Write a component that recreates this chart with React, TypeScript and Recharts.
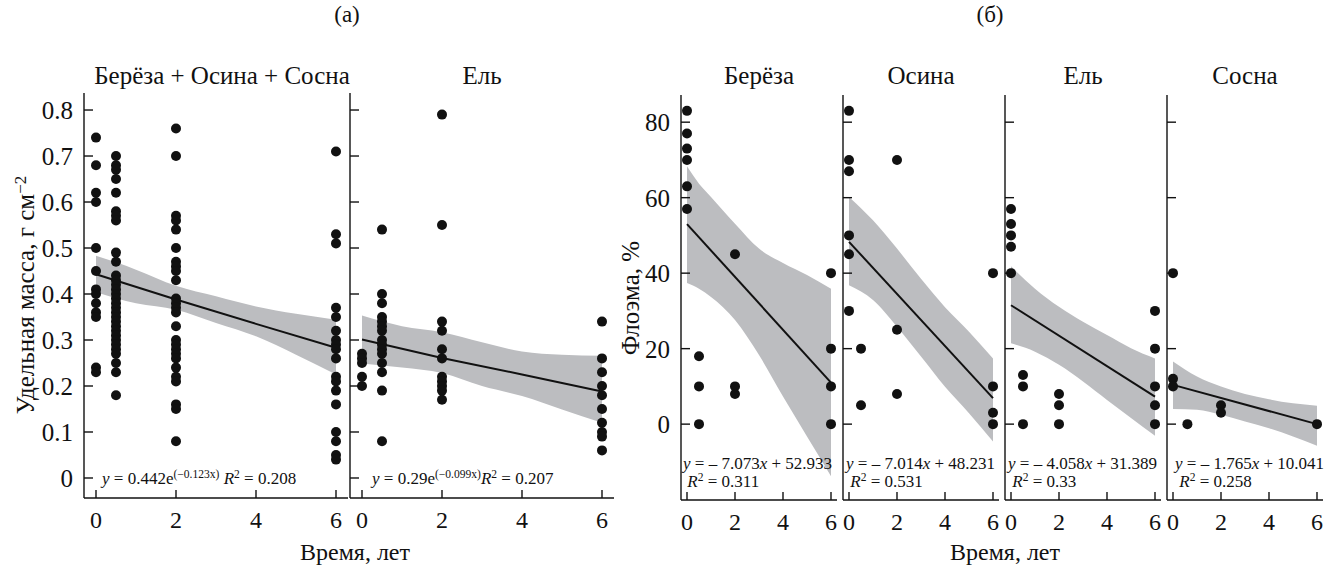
import React from 'react';
import { ComposedChart, Scatter, Line, Area, XAxis, YAxis } from 'recharts';

const FONT = 'Liberation Serif, DejaVu Serif, Noto Serif, serif';
const INK = '#111';
const BAND = '#bcbdc0';

const timeTicks = [0, 2, 4, 6];
const massTicks = [0, 0.1, 0.2, 0.3, 0.4, 0.5, 0.6, 0.7, 0.8];
const phloemTicks = [0, 20, 40, 60, 80];

// (а) удельная масса, Берёза + Осина + Сосна — точки по срокам
const mixT0 = [0.74, 0.68, 0.62, 0.6, 0.5, 0.45, 0.41, 0.4, 0.38, 0.36, 0.35, 0.24, 0.23];
const mixT05 = [0.7, 0.68, 0.67, 0.65, 0.62, 0.58, 0.57, 0.56, 0.49, 0.47, 0.44, 0.43, 0.42, 0.41, 0.4, 0.39, 0.38, 0.37, 0.36, 0.35, 0.34, 0.33, 0.32, 0.31, 0.3, 0.29, 0.28, 0.27, 0.25, 0.23, 0.18];
const mixT2 = [0.76, 0.7, 0.57, 0.56, 0.54, 0.5, 0.47, 0.46, 0.45, 0.43, 0.39, 0.38, 0.37, 0.36, 0.33, 0.3, 0.29, 0.28, 0.27, 0.26, 0.24, 0.22, 0.21, 0.16, 0.15, 0.08];
const mixT6 = [0.71, 0.53, 0.51, 0.37, 0.35, 0.32, 0.3, 0.29, 0.28, 0.26, 0.22, 0.21, 0.19, 0.16, 0.1, 0.08, 0.05, 0.04];
const mixFit = [[0, 0.443], [2, 0.388], [4, 0.335], [6, 0.283]];
const mixBand = [[0, 0.404, 0.483], [0.5, 0.391, 0.469], [1, 0.38, 0.453], [2, 0.366, 0.418], [3, 0.337, 0.395], [4, 0.308, 0.373], [5, 0.268, 0.357], [6, 0.225, 0.344]];

// (а) Ель
const spruceT0 = [0.27, 0.26, 0.25, 0.22, 0.2];
const spruceT05 = [0.54, 0.4, 0.38, 0.35, 0.34, 0.33, 0.32, 0.3, 0.29, 0.28, 0.27, 0.25, 0.23, 0.19, 0.08];
const spruceT2 = [0.79, 0.55, 0.34, 0.32, 0.28, 0.26, 0.22, 0.21, 0.2, 0.19, 0.17];
const spruceT6 = [0.34, 0.26, 0.23, 0.2, 0.18, 0.15, 0.12, 0.1, 0.09, 0.06];
const spruceFit = [[0, 0.301], [2, 0.261], [4, 0.225], [6, 0.188]];
const spruceBand = [[0, 0.249, 0.353], [1, 0.24, 0.33], [2, 0.228, 0.317], [3, 0.2, 0.295], [4, 0.178, 0.275], [5, 0.149, 0.268], [6, 0.12, 0.266]];

// (б) флоэма, %
const birchPts = [[0, [83, 77, 73, 70, 63, 57]], [0.5, [18, 10, 0]], [2, [45, 10, 8]], [6, [40, 20, 10, 0]]];
const birchFit = [[0, 53], [6, 11]];
const birchBand = [[0, 37.4, 68.3], [0.5, 35.9, 63.7], [1, 33.7, 60.2], [2, 27.6, 53.1], [3, 18.3, 46.5], [4, 7.3, 42.7], [5, -3.3, 39.5], [6, -13.8, 35.9]];

const aspenPts = [[0, [83, 70, 67, 50, 45, 30]], [0.5, [20, 5]], [2, [70, 25, 8]], [6, [40, 10, 3, 0]]];
const aspenFit = [[0, 48.3], [6, 6.9]];
const aspenBand = [[0, 36.8, 60.2], [1, 32.9, 54], [2, 25.8, 46.5], [3, 17.9, 38.5], [4, 9.9, 31], [5, 2.9, 24.5], [6, -4.6, 17.4]];

const firPts = [[0, [57, 53, 50, 47, 40]], [0.5, [13, 10, 0]], [2, [8, 5, 0]], [6, [30, 20, 10, 5, 0]]];
const firFit = [[0, 31.5], [6, 7.3]];
const firBand = [[0, 21.4, 41.8], [1, 19.2, 35.9], [2, 15.7, 31.1], [3, 11.3, 27.1], [4, 6.4, 23.6], [5, 1.6, 20.1], [6, -3.1, 17.4]];

const pinePts = [[0, [40, 12, 10]], [0.6, [0]], [2, [5, 3]], [6, [0]]];
const pineFit = [[0, 10.4], [6, 0]];
const pineBand = [[0, 4, 16.6], [1, 3.8, 12.6], [2, 2.5, 10], [3, 0.7, 8], [4, -1.1, 6.6], [5, -3.3, 5.5], [6, -5.7, 4.9]];

const cols = (list: any[]) => list.flatMap(([x, ys]) => ys.map((y: number) => ({ x, y })));
const fitRows = (list: number[][]) => list.map(([x, y]) => ({ x, y }));
const bandRows = (list: number[][]) => list.map(([x, lo, hi]) => ({ x, lo, hi }));

const Dot = (p: any) => <circle cx={p.cx} cy={p.cy} r={5} fill={INK} />;

const XTick = (p: any) => (
  <g>
    <line x1={p.x} y1={p.y} x2={p.x} y2={p.y - 8} stroke={INK} strokeWidth={1.4} />
    <text x={p.x} y={p.y + 30} textAnchor="middle" fontSize={24} fontFamily={FONT} fill={INK}>
      {p.payload.value}
    </text>
  </g>
);

const makeYTick = (labels: boolean) => (p: any) => (
  <g>
    <line x1={p.x} y1={p.y} x2={p.x + 9} y2={p.y} stroke={INK} strokeWidth={1.4} />
    {labels && (
      <text x={p.x - 11} y={p.y + 9} textAnchor="end" fontSize={25} fontFamily={FONT} fill={INK}>
        {p.payload.value}
      </text>
    )}
  </g>
);

interface PanelProps {
  left: number;
  top: number;
  pw: number;
  xDomain: number[];
  yDomain: number[];
  yTicks: number[];
  labels: boolean;
  points: { x: number; y: number }[];
  fit: { x: number; y: number }[];
  band: { x: number; lo: number; hi: number }[];
}

const PH = 405;

const Panel = ({ left, top, pw, xDomain, yDomain, yTicks, labels, points, fit, band }: PanelProps) => {
  const padL = labels ? 60 : 4;
  const padT = 6;
  const padR = 8;
  const axisH = 40;
  return (
    <div style={{ position: 'absolute', left: left - padL, top: top - padT }}>
      <ComposedChart
        width={padL + pw + padR}
        height={padT + PH + axisH}
        margin={{ top: padT, right: padR, bottom: 0, left: 0 }}
      >
        <XAxis
          type="number"
          dataKey="x"
          domain={xDomain}
          ticks={timeTicks}
          interval={0}
          allowDataOverflow
          height={axisH}
          tickSize={0}
          tickMargin={0}
          tickLine={false}
          axisLine={{ stroke: INK, strokeWidth: 1.4 }}
          tick={<XTick />}
        />
        <YAxis
          type="number"
          domain={yDomain}
          ticks={yTicks}
          interval={0}
          allowDataOverflow
          width={padL}
          tickSize={0}
          tickMargin={0}
          tickLine={false}
          axisLine={{ stroke: INK, strokeWidth: 1.4 }}
          tick={makeYTick(labels)}
        />
        <Area
          data={band}
          dataKey={(d: any) => [d.lo, d.hi]}
          type="monotone"
          fill={BAND}
          fillOpacity={1}
          stroke="none"
          isAnimationActive={false}
        />
        <Line data={fit} dataKey="y" type="linear" stroke={INK} strokeWidth={2} dot={false} isAnimationActive={false} />
        <Scatter data={points} dataKey="y" shape={Dot} isAnimationActive={false} />
      </ComposedChart>
    </div>
  );
};

const Txt = ({ x, y, size = 25, children, rotate = false }: any) => (
  <div
    style={{
      position: 'absolute',
      left: x,
      top: y,
      transform: `translate(-50%, -50%)${rotate ? ' rotate(-90deg)' : ''}`,
      fontSize: size,
      lineHeight: 1,
      whiteSpace: 'nowrap',
    }}
  >
    {children}
  </div>
);

const Sup = ({ children }: any) => (
  <span style={{ fontSize: '0.68em', position: 'relative', top: '-0.48em' }}>{children}</span>
);

const Eq = ({ x, y, children }: any) => (
  <div style={{ position: 'absolute', left: x, top: y, fontSize: 17, lineHeight: '18px', whiteSpace: 'nowrap' }}>
    {children}
  </div>
);

const massDomain = [-0.0435, 0.837];
const phloemDomain = [-20.1, 87.2];

export default function App() {
  return (
    <div
      style={{
        position: 'absolute',
        left: 0,
        top: 0,
        width: 1324,
        height: 571,
        background: '#fff',
        color: INK,
        fontFamily: FONT,
        overflow: 'hidden',
      }}
    >
      <Txt x={347} y={14} size={23}>(а)</Txt>
      <Txt x={990} y={14} size={23}>(б)</Txt>

      <Txt x={222} y={75}>Берёза + Осина + Сосна</Txt>
      <Txt x={482} y={75}>Ель</Txt>
      <Txt x={759} y={75}>Берёза</Txt>
      <Txt x={921} y={75}>Осина</Txt>
      <Txt x={1083} y={75}>Ель</Txt>
      <Txt x={1245} y={75}>Сосна</Txt>

      <Txt x={25} y={295} rotate>
        Удельная масса, г см<Sup>−2</Sup>
      </Txt>
      <Txt x={630} y={298} rotate>Флоэма, %</Txt>

      <Txt x={355} y={552} size={24}>Время, лет</Txt>
      <Txt x={1005} y={552} size={24}>Время, лет</Txt>

      <Panel left={84} top={93} pw={264} xDomain={[-0.3, 6.3]} yDomain={massDomain} yTicks={massTicks} labels
        points={[...mixT0.map((y) => ({ x: 0, y })), ...mixT05.map((y) => ({ x: 0.5, y })), ...mixT2.map((y) => ({ x: 2, y })), ...mixT6.map((y) => ({ x: 6, y }))]}
        fit={fitRows(mixFit)} band={bandRows(mixBand)} />
      <Panel left={350} top={93} pw={264} xDomain={[-0.3, 6.3]} yDomain={massDomain} yTicks={massTicks} labels={false}
        points={[...spruceT0.map((y) => ({ x: 0, y })), ...spruceT05.map((y) => ({ x: 0.5, y })), ...spruceT2.map((y) => ({ x: 2, y })), ...spruceT6.map((y) => ({ x: 6, y }))]}
        fit={fitRows(spruceFit)} band={bandRows(spruceBand)} />

      <Panel left={681} top={95} pw={156} xDomain={[-0.25, 6.25]} yDomain={phloemDomain} yTicks={phloemTicks} labels
        points={cols(birchPts)} fit={fitRows(birchFit)} band={bandRows(birchBand)} />
      <Panel left={843} top={95} pw={156} xDomain={[-0.25, 6.25]} yDomain={phloemDomain} yTicks={phloemTicks} labels={false}
        points={cols(aspenPts)} fit={fitRows(aspenFit)} band={bandRows(aspenBand)} />
      <Panel left={1005} top={95} pw={156} xDomain={[-0.25, 6.25]} yDomain={phloemDomain} yTicks={phloemTicks} labels={false}
        points={cols(firPts)} fit={fitRows(firFit)} band={bandRows(firBand)} />
      <Panel left={1167} top={95} pw={156} xDomain={[-0.25, 6.25]} yDomain={phloemDomain} yTicks={phloemTicks} labels={false}
        points={cols(pinePts)} fit={fitRows(pineFit)} band={bandRows(pineBand)} />

      <Eq x={102} y={470}>
        <i>y</i> = 0.442e<Sup>(−0.123x)</Sup> <i>R</i><Sup>2</Sup> = 0.208
      </Eq>
      <Eq x={372} y={470}>
        <i>y</i> = 0.29e<Sup>(−0.099x)</Sup><i>R</i><Sup>2</Sup> = 0.207
      </Eq>

      <Eq x={683} y={455}>
        <i>y</i> = – 7.073<i>x</i> + 52.933<br />&nbsp;<i>R</i><Sup>2</Sup> = 0.311
      </Eq>
      <Eq x={846} y={455}>
        <i>y</i> = – 7.014<i>x</i> + 48.231<br />&nbsp;<i>R</i><Sup>2</Sup> = 0.531
      </Eq>
      <Eq x={1008} y={455}>
        <i>y</i> = – 4.058<i>x</i> + 31.389<br />&nbsp;<i>R</i><Sup>2</Sup> = 0.33
      </Eq>
      <Eq x={1175} y={455}>
        <i>y</i> = – 1.765<i>x</i> + 10.041<br />&nbsp;<i>R</i><Sup>2</Sup> = 0.258
      </Eq>
    </div>
  );
}
